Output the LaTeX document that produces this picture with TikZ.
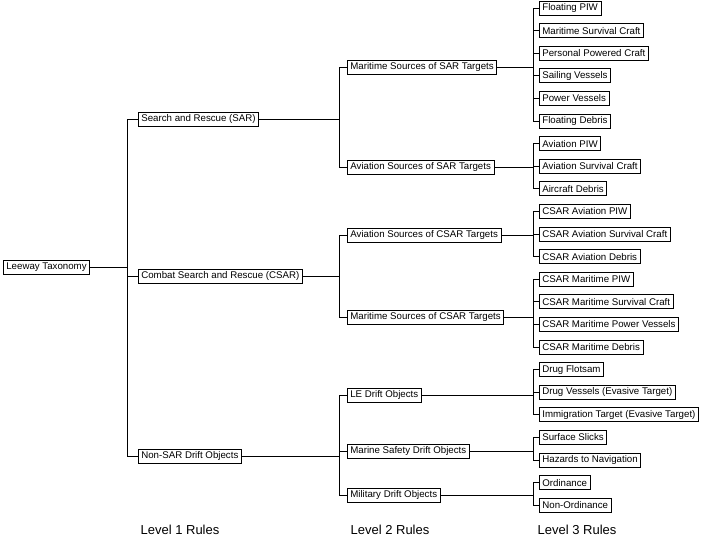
\documentclass[tikz,border=0pt]{standalone}
\usepackage{fontspec}
\setmainfont{Liberation Sans}
\usetikzlibrary{positioning}

\begin{document}
\begin{tikzpicture}[x=1pt, y=-1pt, line width=0.7pt,
  box/.style={draw, anchor=west, font=\fontsize{9.7}{10}\selectfont, inner xsep=3pt, inner ysep=0pt, minimum height=14pt},
  rule/.style={font=\fontsize{13}{15}\selectfont}]

\useasboundingbox (0,0) rectangle (701,541);

% Bus lines (x positions)
\coordinate (bus0) at (127,0);
\coordinate (bus1) at (339,0);
\coordinate (bus2) at (533,0);

% Root
\node[box] (root) at (3,267) {Leeway Taxonomy};

% Level 1
\node[box] (sar)  at (138,119) {Search and Rescue (SAR)};
\node[box] (csar) at (138,276) {Combat Search and Rescue (CSAR)};
\node[box] (nsar) at (138,456) {Non-SAR Drift Objects};

% Level 2
\node[box] (msar)  at (347,67)  {Maritime Sources of SAR Targets};
\node[box] (asar)  at (347,167) {Aviation Sources of SAR Targets};
\node[box] (acsar) at (347,235) {Aviation Sources of CSAR Targets};
\node[box] (mcsar) at (347,317) {Maritime Sources of CSAR Targets};
\node[box] (le)    at (347,395) {LE Drift Objects};
\node[box] (ms)    at (347,451) {Marine Safety Drift Objects};
\node[box] (mil)   at (347,495) {Military Drift Objects};

% Level 3 (one row every 22.6)
\foreach \name/\txt [count=\i from 0] in {fpiw/Floating PIW, msc/Maritime Survival Craft,
    ppc/Personal Powered Craft, sv/Sailing Vessels, pv/Power Vessels, fdeb/Floating Debris,
    apiw/Aviation PIW, asc/Aviation Survival Craft, adeb/Aircraft Debris,
    capiw/CSAR Aviation PIW, casc/CSAR Aviation Survival Craft, cadeb/CSAR Aviation Debris,
    cmpiw/CSAR Maritime PIW, cmsc/CSAR Maritime Survival Craft, cmpv/CSAR Maritime Power Vessels,
    cmdeb/CSAR Maritime Debris, dflot/Drug Flotsam, dves/Drug Vessels (Evasive Target),
    immig/Immigration Target (Evasive Target), slick/Surface Slicks, hazard/Hazards to Navigation,
    ord/Ordinance, nonord/Non-Ordinance} {
  \node[box] (\name) at (539, 8+22.6*\i) {\txt};
}

% Root to level 1
\foreach \c in {sar,csar,nsar}
  \draw (root.east) -- (root.east -| bus0) |- (\c.west);

% Level 1 to level 2
\foreach \p/\c in {sar/msar, sar/asar, csar/acsar, csar/mcsar, nsar/le, nsar/ms, nsar/mil}
  \draw (\p.east) -- (\p.east -| bus1) |- (\c.west);

% Level 2 to level 3
\foreach \p/\c in {msar/fpiw, msar/msc, msar/ppc, msar/sv, msar/pv, msar/fdeb,
    asar/apiw, asar/asc, asar/adeb, acsar/capiw, acsar/casc, acsar/cadeb,
    mcsar/cmpiw, mcsar/cmsc, mcsar/cmpv, mcsar/cmdeb, le/dflot, le/dves, le/immig,
    ms/slick, ms/hazard, mil/ord, mil/nonord}
  \draw (\p.east) -- (\p.east -| bus2) |- (\c.west);

% Column labels
\node[rule] (r1) at (180,530) {Level 1 Rules};
\node[rule] (r2) at (390,530) {Level 2 Rules};
\node[rule] (r3) at (577,530) {Level 3 Rules};

\end{tikzpicture}
\end{document}
